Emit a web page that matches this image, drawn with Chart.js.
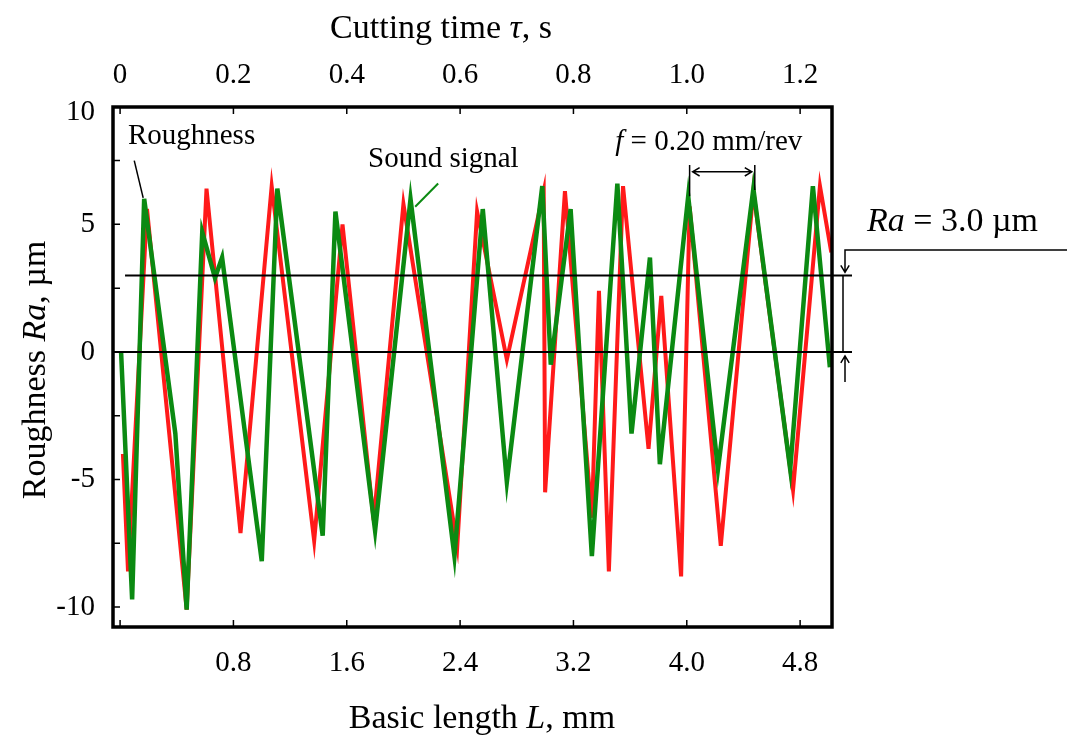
<!DOCTYPE html>
<html>
<head>
  <meta charset="UTF-8">
  <title>Roughness and sound signal</title>
  <style>
    body { margin: 0; background: #fff; }
    #wrap { width: 1067px; height: 735px; }
  </style>
</head>
<body>
  <div id="wrap"><canvas id="chart"></canvas></div>

  <script src="https://cdn.jsdelivr.net/npm/chart.js"></script>
  <script>
    // roughness profile (red), basic length L in mm and Ra in µm
    const redL  = [0.02, 0.056, 0.19, 0.47, 0.61, 0.85, 1.07, 1.37, 1.57, 1.79, 2.00, 2.38, 2.52, 2.73, 2.99, 3.00,
                   3.14, 3.33, 3.38, 3.45, 3.55, 3.73, 3.82, 3.96, 4.02, 4.24, 4.47, 4.75, 4.94, 5.02];
    const redRa = [-4.0, -8.6, 5.6, -10.1, 6.4, -7.1, 6.5, -7.4, 5.0, -6.6, 5.8, -7.6, 5.5, -0.3, 6.3, -5.5,
                   6.3, -6.5, 2.4, -8.6, 6.5, -3.8, 2.2, -8.8, 5.7, -7.6, 6.3, -5.4, 6.5, 3.9];

    // sound signal (green)
    const greenL  = [0.007, 0.085, 0.17, 0.39, 0.47, 0.58, 0.67, 0.72, 1.00, 1.11, 1.43, 1.52, 1.80, 2.05, 2.36, 2.56,
                     2.73, 2.98, 3.04, 3.18, 3.33, 3.51, 3.61, 3.74, 3.81, 4.01, 4.22, 4.47, 4.73, 4.89, 5.01];
    const greenRa = [0, -9.7, 6.0, -3.2, -10.1, 4.7, 2.9, 3.7, -8.2, 6.4, -7.2, 5.5, -7.0, 6.0, -8.0, 5.6,
                     -5.1, 6.5, -0.5, 5.6, -8.0, 6.6, -3.2, 3.7, -4.4, 6.1, -4.6, 6.4, -4.6, 6.5, -0.6];

    const lengthTicks  = [0, 0.8, 1.6, 2.4, 3.2, 4.0, 4.8];
    const lengthLabels = ['', '0.8', '1.6', '2.4', '3.2', '4.0', '4.8'];
    const timeTicks    = [0, 0.2, 0.4, 0.6, 0.8, 1.0, 1.2];
    const timeLabels   = ['0', '0.2', '0.4', '0.6', '0.8', '1.0', '1.2'];
    const raTicks      = [-10, -5, 0, 5, 9.37];
    const raLabels     = ['-10', '-5', '0', '5', '10'];
    const raMinor      = [-10, -7.5, -5, -2.5, 0, 2.5, 5, 7.5];
    const raLevel      = 3.0;
    const feedMarks    = [4.02, 4.48];   // two peaks, f = 0.20 mm/rev
    const feedPeaks    = [6.1, 6.35];

    const L_MIN = -0.05, L_MAX = 5.025;
    const SERIF = '"Liberation Serif", "Times New Roman", serif';

    function rich(ctx, parts, x, y, size, align) {
      const fonts = parts.map(p => (p[1] ? 'italic ' : '') + size + 'px ' + SERIF);
      let w = 0;
      const widths = parts.map((p, i) => {
        ctx.font = fonts[i];
        const m = ctx.measureText(p[0]).width;
        w += m;
        return m;
      });
      let cx = align === 'center' ? x - w / 2 : (align === 'right' ? x - w : x);
      ctx.textAlign = 'left';
      ctx.textBaseline = 'middle';
      parts.forEach((p, i) => {
        ctx.font = fonts[i];
        ctx.fillText(p[0], cx, y);
        cx += widths[i];
      });
    }

    function head(ctx, x, y, dx, dy) {
      // open arrow head, tip at x,y pointing along dx,dy
      const s = 7;
      ctx.moveTo(x - dx * s - dy * s * 0.6, y - dy * s - dx * s * 0.6);
      ctx.lineTo(x, y);
      ctx.lineTo(x - dx * s + dy * s * 0.6, y - dy * s + dx * s * 0.6);
    }

    const frame = {
      id: 'frame',
      afterDatasetsDraw(chart) {
        const { ctx, chartArea: a, scales: { x, x2, y } } = chart;
        ctx.save();
        ctx.strokeStyle = '#000';
        ctx.fillStyle = '#000';

        // Ra level and zero line
        ctx.lineWidth = 2;
        ctx.beginPath();
        ctx.moveTo(x.getPixelForValue(0.035), y.getPixelForValue(raLevel));
        ctx.lineTo(a.right + 20, y.getPixelForValue(raLevel));
        ctx.moveTo(a.left, y.getPixelForValue(0));
        ctx.lineTo(a.right + 20, y.getPixelForValue(0));
        ctx.stroke();

        // inward tick marks
        ctx.lineWidth = 1.5;
        ctx.beginPath();
        lengthTicks.forEach(v => {
          const px = x.getPixelForValue(v);
          ctx.moveTo(px, a.bottom); ctx.lineTo(px, a.bottom - 7);
        });
        timeTicks.forEach(v => {
          const px = x2.getPixelForValue(v);
          ctx.moveTo(px, a.top); ctx.lineTo(px, a.top + 7);
        });
        raMinor.forEach(v => {
          const py = y.getPixelForValue(v);
          ctx.moveTo(a.left, py); ctx.lineTo(a.left + 7, py);
        });
        ctx.stroke();

        ctx.lineWidth = 3.5;
        ctx.strokeRect(a.left, a.top, a.right - a.left, a.bottom - a.top);

        // dimension for Ra on the right
        const dx = a.right + 11;
        const yLev = y.getPixelForValue(raLevel), y0 = y.getPixelForValue(0);
        const yLead = y.getPixelForValue(4.0);
        ctx.lineWidth = 1.5;
        ctx.beginPath();
        ctx.moveTo(chart.width, yLead);
        ctx.lineTo(dx + 2, yLead);
        ctx.lineTo(dx + 2, yLev - 3);
        head(ctx, dx + 2, yLev - 3, 0, 1);
        ctx.moveTo(dx, yLev);
        ctx.lineTo(dx, y0);
        ctx.moveTo(dx + 2, y0 + 30);
        ctx.lineTo(dx + 2, y0 + 4);
        head(ctx, dx + 2, y0 + 4, 0, -1);
        ctx.stroke();

        // feed bracket
        const yBar = y.getPixelForValue(7.33), yArr = y.getPixelForValue(7.06);
        const fx1 = x.getPixelForValue(feedMarks[0]), fx2 = x.getPixelForValue(feedMarks[1]);
        ctx.beginPath();
        ctx.moveTo(fx1, yBar); ctx.lineTo(fx1, y.getPixelForValue(feedPeaks[0]));
        ctx.moveTo(fx2, yBar); ctx.lineTo(fx2, y.getPixelForValue(feedPeaks[1]));
        ctx.moveTo(fx1 + 3, yArr); ctx.lineTo(fx2 - 3, yArr);
        head(ctx, fx1 + 3, yArr, -1, 0);
        head(ctx, fx2 - 3, yArr, 1, 0);
        ctx.stroke();

        // leaders
        ctx.beginPath();
        ctx.moveTo(x.getPixelForValue(0.1), y.getPixelForValue(7.5));
        ctx.lineTo(x.getPixelForValue(0.163), y.getPixelForValue(6.04));
        ctx.stroke();
        ctx.strokeStyle = '#0b8a12';
        ctx.lineWidth = 2;
        ctx.beginPath();
        ctx.moveTo(x.getPixelForValue(2.245), y.getPixelForValue(6.6));
        ctx.lineTo(x.getPixelForValue(2.083), y.getPixelForValue(5.69));
        ctx.stroke();

        // texts
        rich(ctx, [['Roughness', false]], x.getPixelForValue(0.055), y.getPixelForValue(8.43), 29, 'left');
        rich(ctx, [['Sound signal', false]], x.getPixelForValue(1.75), y.getPixelForValue(7.53), 29, 'left');
        rich(ctx, [['f', true], [' = 0.20 mm/rev', false]], x.getPixelForValue(3.495), y.getPixelForValue(8.2), 29, 'left');
        rich(ctx, [['Ra', true], [' = 3.0 µm', false]], a.right + 35, y.getPixelForValue(5.1), 34, 'left');

        // axis titles
        rich(ctx, [['Cutting time ', false], ['τ', true], [', s', false]], a.left + 328, a.top - 78, 34, 'center');
        rich(ctx, [['Basic length ', false], ['L', true], [', mm', false]], a.left + 369, a.bottom + 92, 34, 'center');
        ctx.translate(a.left - 77, a.top + 263);
        ctx.rotate(-Math.PI / 2);
        rich(ctx, [['Roughness ', false], ['Ra', true], [', µm', false]], 0, 0, 34, 'center');
        ctx.restore();
      }
    };

    const tickFont = { family: SERIF, size: 29 };

    new Chart(document.getElementById('chart'), {
      type: 'line',
      data: {
        datasets: [
          {
            label: 'Roughness',
            data: redL.map((v, i) => ({ x: v, y: redRa[i] })),
            borderColor: '#ff1a1a',
            borderWidth: 4,
            pointRadius: 0,
            tension: 0,
            order: 2
          },
          {
            label: 'Sound signal',
            data: greenL.map((v, i) => ({ x: v, y: greenRa[i] })),
            borderColor: '#0b8a12',
            borderWidth: 4.5,
            pointRadius: 0,
            tension: 0,
            order: 1
          }
        ]
      },
      options: {
        responsive: true,
        maintainAspectRatio: false,
        animation: false,
        layout: { padding: { left: 0, right: 235, top: 0, bottom: 0 } },
        plugins: { legend: { display: false }, tooltip: { enabled: false } },
        scales: {
          x: {
            type: 'linear', position: 'bottom', min: L_MIN, max: L_MAX,
            afterBuildTicks: s => { s.ticks = lengthTicks.map(v => ({ value: v })); },
            afterFit: s => { s.height = 108; },
            ticks: {
              callback: v => lengthLabels[lengthTicks.indexOf(v)],
              font: tickFont, color: '#000', padding: 11, maxRotation: 0, autoSkip: false
            },
            grid: { display: false },
            border: { display: false }
          },
          x2: {
            type: 'linear', position: 'top', min: L_MIN / 4, max: L_MAX / 4,
            afterBuildTicks: s => { s.ticks = timeTicks.map(v => ({ value: v })); },
            afterFit: s => { s.height = 107; },
            ticks: {
              callback: v => timeLabels[timeTicks.indexOf(v)],
              font: tickFont, color: '#000', padding: 6, maxRotation: 0, autoSkip: false
            },
            grid: { display: false },
            border: { display: false }
          },
          y: {
            type: 'linear', min: -10.78, max: 9.6,
            afterBuildTicks: s => { s.ticks = raTicks.map(v => ({ value: v })); },
            afterFit: s => { s.width = 113; },
            ticks: {
              callback: v => raLabels[raTicks.indexOf(v)],
              font: tickFont, color: '#000', padding: 10, autoSkip: false
            },
            grid: { display: false },
            border: { display: false }
          }
        }
      },
      plugins: [frame]
    });
  </script>
</body>
</html>
